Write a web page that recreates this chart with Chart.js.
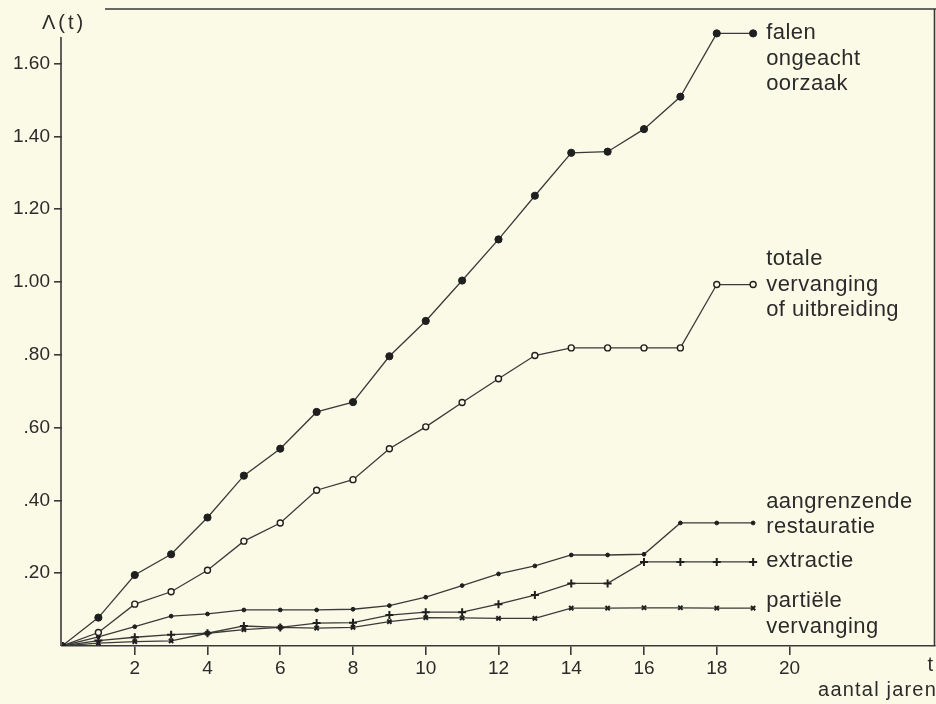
<!DOCTYPE html>
<html>
<head>
<meta charset="utf-8">
<script src="https://cdn.jsdelivr.net/npm/chart.js@4.4.0/dist/chart.umd.min.js"></script>
<style>
  html, body { margin: 0; padding: 0; background: #fbfae6; }
  #wrap { width: 936px; height: 704px; }
</style>
</head>
<body>
<div id="wrap"><canvas id="chart" width="936" height="704"></canvas></div>
<script>
// jaren t
const years = [0, 1, 2, 3, 4, 5, 6, 7, 8, 9, 10, 11, 12, 13, 14, 15, 16, 17, 18, 19];

// cumulatieve faalintensiteit per oorzaak
const falen = [0, 0.078, 0.195, 0.252, 0.353, 0.468, 0.542, 0.643, 0.670, 0.796, 0.893, 1.004, 1.117, 1.237, 1.355, 1.358, 1.420, 1.509, 1.683, 1.683];
const totale = [0, 0.037, 0.115, 0.149, 0.208, 0.288, 0.338, 0.428, 0.457, 0.542, 0.602, 0.669, 0.734, 0.798, 0.819, 0.819, 0.819, 0.819, 0.993, 0.993];
const aangrenzende = [0, 0.025, 0.053, 0.082, 0.088, 0.099, 0.099, 0.099, 0.101, 0.111, 0.134, 0.166, 0.198, 0.220, 0.250, 0.250, 0.252, 0.338, 0.338, 0.338];
const extractie = [0, 0.015, 0.024, 0.031, 0.035, 0.055, 0.051, 0.063, 0.064, 0.085, 0.093, 0.093, 0.115, 0.140, 0.172, 0.172, 0.231, 0.231, 0.231, 0.231];
const partiele = [0, 0.008, 0.012, 0.014, 0.035, 0.045, 0.051, 0.049, 0.051, 0.067, 0.078, 0.077, 0.076, 0.076, 0.104, 0.104, 0.105, 0.105, 0.104, 0.104];

const xTicks = [2, 4, 6, 8, 10, 12, 14, 16, 18, 20];
const yTicks = [0.2, 0.4, 0.6, 0.8, 1.0, 1.2, 1.4, 1.6];

const seriesText = [
    ['falen', 'ongeacht', 'oorzaak'],
    ['totale', 'vervanging', 'of uitbreiding'],
    ['aangrenzende', 'restauratie'],
    ['extractie'],
    ['partiële', 'vervanging']
];

const INK = '#2b2b2b';
const LINE = '#3a3a3a';
const PAPER = '#fbfae6';
const FONT = '"Liberation Sans", Arial, Helvetica, sans-serif';

// which text line sits level with the last point, plus small nudge
const labelAnchor = [
    { line: 0, dy: 0 },
    { line: 1, dy: 0 },
    { line: 1, dy: 4 },
    { line: 0, dy: -1 },
    { line: 0, dy: -7 }
];

function pts(values) {
    return years.map((t, i) => ({ x: t, y: values[i] }));
}

function fmtY(v) {
    let s = v.toFixed(2);
    return s.startsWith('0') ? s.slice(1) : s;
}

const paperPlugin = {
    id: 'paper',
    beforeDraw(chart) {
        const ctx = chart.ctx;
        ctx.save();
        ctx.fillStyle = PAPER;
        ctx.fillRect(0, 0, chart.width, chart.height);
        ctx.restore();
    }
};

const framePlugin = {
    id: 'frame',
    afterDraw(chart) {
        const a = chart.chartArea;
        const ctx = chart.ctx;
        ctx.save();
        ctx.strokeStyle = LINE;
        ctx.lineWidth = 1.6;
        ctx.beginPath();
        // y-as
        ctx.moveTo(a.left - 1, a.top + 28);
        ctx.lineTo(a.left - 1, a.bottom);
        // bovenrand
        ctx.moveTo(a.left + 43, a.top);
        ctx.lineTo(chart.width, a.top);
        // rechterrand
        ctx.moveTo(a.right - 0.5, a.top);
        ctx.lineTo(a.right - 0.5, a.bottom);
        ctx.stroke();

        ctx.fillStyle = INK;
        ctx.textBaseline = 'middle';
        ctx.textAlign = 'left';
        ctx.font = '20px ' + FONT;
        ctx.letterSpacing = '3px';
        ctx.fillText('\u039B(t)', a.left - 20, a.top + 14);

        ctx.textAlign = 'right';
        ctx.font = '20px ' + FONT;
        ctx.letterSpacing = '0px';
        ctx.fillText('t', chart.width - 3, a.bottom + 19);
        ctx.letterSpacing = '1.2px';
        ctx.fillText('aantal jaren', chart.width + 1, a.bottom + 44);
        ctx.restore();
    }
};

const seriesLabelPlugin = {
    id: 'seriesLabels',
    afterDatasetsDraw(chart) {
        const ctx = chart.ctx;
        ctx.save();
        ctx.fillStyle = INK;
        ctx.font = '22px ' + FONT;
        ctx.letterSpacing = '0.5px';
        ctx.textAlign = 'left';
        ctx.textBaseline = 'middle';
        chart.data.datasets.forEach((ds, i) => {
            const meta = chart.getDatasetMeta(i);
            const last = meta.data[meta.data.length - 1];
            const lines = seriesText[i];
            const anc = labelAnchor[i];
            lines.forEach((txt, j) => {
                ctx.fillText(txt, last.x + 13, last.y + anc.dy + (j - anc.line) * 25.5);
            });
        });
        ctx.restore();
    }
};

function makeSet(values, style) {
    return Object.assign({
        data: pts(values),
        borderColor: LINE,
        borderWidth: 1.3,
        pointBorderColor: '#1f1f1f',
        pointBackgroundColor: '#1f1f1f',
        tension: 0,
        fill: false
    }, style);
}

const ctx = document.getElementById('chart').getContext('2d');
new Chart(ctx, {
    type: 'line',
    data: {
        datasets: [
            makeSet(falen, { pointStyle: 'circle', pointRadius: 3.6, pointBorderWidth: 1 }),
            makeSet(totale, { pointStyle: 'circle', pointRadius: 3, pointBorderWidth: 1.4, pointBackgroundColor: PAPER }),
            makeSet(aangrenzende, { pointStyle: 'circle', pointRadius: 1.9, pointBorderWidth: 1 }),
            makeSet(extractie, { pointStyle: 'cross', pointRadius: 4, pointBorderWidth: 2 }),
            makeSet(partiele, { pointStyle: 'crossRot', pointRadius: 3, pointBorderWidth: 2 })
        ]
    },
    options: {
        responsive: false,
        animation: false,
        layout: { autoPadding: false, padding: { top: 9, right: 1, left: 0, bottom: 0 } },
        plugins: {
            legend: { display: false },
            tooltip: { enabled: false }
        },
        scales: {
            x: {
                type: 'linear',
                min: 0,
                max: 24,
                afterBuildTicks: scale => { scale.ticks = xTicks.map(v => ({ value: v })); },
                afterFit: scale => {
                    scale.height = 58;
                    scale.paddingLeft = 0;
                    scale.paddingRight = 0;
                },
                ticks: {
                    color: INK,
                    padding: 2,
                    font: { family: FONT, size: 19 },
                    maxRotation: 0,
                    callback: v => String(v)
                },
                grid: {
                    drawOnChartArea: false,
                    drawTicks: true,
                    tickLength: 9,
                    color: LINE,
                    lineWidth: 1.6
                },
                border: { display: true, color: LINE, width: 1.6 }
            },
            y: {
                type: 'linear',
                min: 0,
                max: 1.75,
                afterBuildTicks: scale => { scale.ticks = yTicks.map(v => ({ value: v })); },
                afterFit: scale => {
                    scale.width = 62;
                    scale.paddingTop = 0;
                    scale.paddingBottom = 0;
                },
                ticks: {
                    color: INK,
                    padding: 4,
                    font: { family: FONT, size: 19 },
                    callback: v => fmtY(v)
                },
                grid: {
                    drawOnChartArea: false,
                    drawTicks: true,
                    tickLength: 8,
                    color: LINE,
                    lineWidth: 1.6
                },
                border: { display: false }
            }
        }
    },
    plugins: [paperPlugin, framePlugin, seriesLabelPlugin]
});
</script>
</body>
</html>
